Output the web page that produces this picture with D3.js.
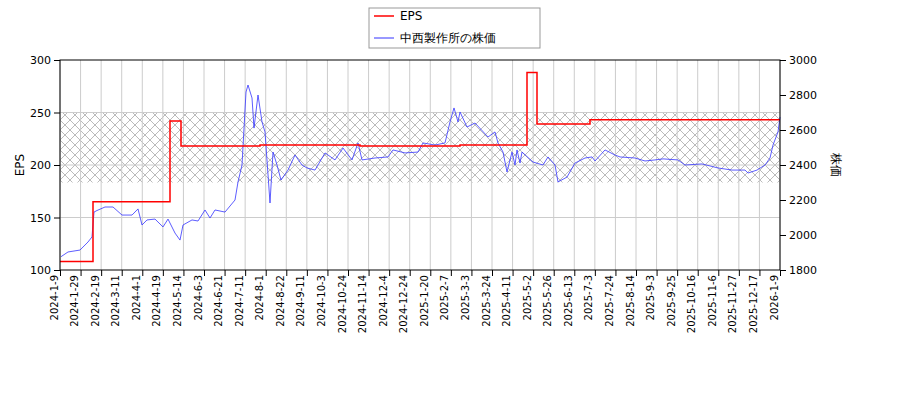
<!DOCTYPE html>
<html><head><meta charset="utf-8">
<script src="https://cdn.jsdelivr.net/npm/d3@7"></script>
<style>body{margin:0;background:#fff}text{font-family:"DejaVu Sans",sans-serif;}</style>
</head><body><svg id="c" width="900" height="400"></svg>
<script>
const tickLabels=["2024-1-9","2024-1-29","2024-2-19","2024-3-11","2024-4-1","2024-4-19","2024-5-14","2024-6-3","2024-6-21","2024-7-11","2024-8-1","2024-8-22","2024-9-11","2024-10-3","2024-10-24","2024-11-14","2024-12-4","2024-12-24","2025-1-20","2025-2-7","2025-3-3","2025-3-24","2025-4-11","2025-5-2","2025-5-26","2025-6-13","2025-7-3","2025-7-24","2025-8-14","2025-9-3","2025-9-25","2025-10-16","2025-11-6","2025-11-27","2025-12-17","2026-1-9"];
// sequence index (0..720) and values
const priceIdx=[1,8,20,28,32,34,37,45,53,62,72,78,82,87,95,103,108,115,120,123,132,138,145,150,155,165,175,178,182,186,188,192,194,198,202,205,210,213,217,221,228,235,242,247,255,265,275,283,292,298,302,315,328,333,345,358,363,375,385,390,394,398,400,407,415,428,435,438,443,447,452,455,457,460,462,473,483,488,495,498,507,515,525,532,535,545,555,560,575,585,595,603,618,625,642,658,672,685,688,697,705,710,713,718,720];
const priceVal=[1876,1903,1914,1960,1989,2131,2140,2160,2160,2114,2114,2149,2057,2086,2091,2046,2091,2011,1971,2057,2086,2080,2143,2097,2143,2131,2200,2303,2400,2817,2857,2783,2611,2800,2646,2589,2183,2474,2400,2314,2371,2457,2400,2383,2371,2469,2429,2497,2429,2526,2429,2440,2446,2486,2469,2474,2526,2514,2526,2646,2726,2646,2703,2617,2640,2560,2589,2526,2474,2360,2474,2400,2486,2411,2474,2417,2400,2446,2400,2303,2331,2411,2440,2446,2423,2486,2457,2446,2440,2423,2429,2435,2429,2400,2406,2383,2371,2371,2354,2371,2400,2440,2514,2589,2674,2640];
const epsIdx=[0,33,110,121,200,300,400,467,477,530,720];
const epsVal=[108,165,242,218,219,218,219,288,239,243,243];

const svg=d3.select("#c");
const L=60,R=780,T=60,B=270;
const x=d3.scaleLinear().domain([0,720]).range([L,R]);
const yl=d3.scaleLinear().domain([100,300]).range([B,T]);
const yr=d3.scaleLinear().domain([1800,3000]).range([B,T]);
const xt=d3.scalePoint().domain(tickLabels).range([L,R]);

const defs=svg.append("defs");
const p=defs.append("pattern").attr("id","h").attr("patternUnits","userSpaceOnUse").attr("width",10).attr("height",10);
p.append("path").attr("d","M0,0L10,10M10,0L0,10").attr("stroke","#aaa").attr("stroke-width",0.8);
svg.append("rect").attr("x",L).attr("y",yr(2700)).attr("width",R-L).attr("height",yr(2300)-yr(2700)).attr("fill","url(#h)");

const g=svg.append("g").attr("stroke","#ccc").attr("stroke-width",1);
tickLabels.forEach(t=>g.append("line").attr("x1",xt(t)).attr("x2",xt(t)).attr("y1",T).attr("y2",B));
[150,200,250].forEach(v=>g.append("line").attr("x1",L).attr("x2",R).attr("y1",yl(v)).attr("y2",yl(v)));

svg.append("path").datum(priceIdx.map((d,i)=>[d,priceVal[i]])).attr("fill","none").attr("stroke","#3333ff").attr("stroke-width",0.8)
 .attr("d",d3.line().x(d=>x(d[0])).y(d=>yr(d[1])));
svg.append("path").datum(epsIdx.map((d,i)=>[d,epsVal[i]])).attr("fill","none").attr("stroke","red").attr("stroke-width",1.5)
 .attr("d",d3.line().curve(d3.curveStepAfter).x(d=>x(d[0])).y(d=>yl(d[1])));

svg.append("rect").attr("x",L).attr("y",T).attr("width",R-L).attr("height",B-T).attr("fill","none").attr("stroke","#000");
const ax=svg.append("g").attr("transform",`translate(0,${B})`).call(d3.axisBottom(xt).tickSizeOuter(0));
ax.selectAll("text").attr("transform","rotate(-90)").attr("text-anchor","end").attr("dx","-0.5em").attr("dy","-0.3em").attr("x",0).attr("y",0).style("font-size","10px");
ax.select(".domain").remove();
const al=svg.append("g").attr("transform",`translate(${L},0)`).call(d3.axisLeft(yl).tickValues([100,150,200,250,300]).tickSizeOuter(0));
const ar=svg.append("g").attr("transform",`translate(${R},0)`).call(d3.axisRight(yr).tickValues([1800,2000,2200,2400,2600,2800,3000]).tickFormat(d3.format("d")).tickSizeOuter(0));
[al,ar].forEach(a=>{a.select(".domain").remove();a.selectAll("text").style("font-size","11px");});
svg.append("text").attr("transform",`translate(24,165) rotate(-90)`).attr("text-anchor","middle").style("font-size","12px").text("EPS");
svg.append("text").attr("transform",`translate(832,165) rotate(90)`).attr("text-anchor","middle").style("font-size","12px").text("株価");

const lg=svg.append("g");
lg.append("rect").attr("x",369).attr("y",8).attr("width",171).attr("height",40).attr("fill","#fff").attr("stroke","#999");
lg.append("line").attr("x1",374).attr("x2",394).attr("y1",16).attr("y2",16).attr("stroke","red").attr("stroke-width",1.5);
lg.append("line").attr("x1",374).attr("x2",394).attr("y1",38).attr("y2",38).attr("stroke","#3333ff");
lg.append("text").attr("x",400).attr("y",20).style("font-size","12px").text("EPS");
lg.append("text").attr("x",400).attr("y",42).style("font-size","12px").text("中西製作所の株価");
</script></body></html>
